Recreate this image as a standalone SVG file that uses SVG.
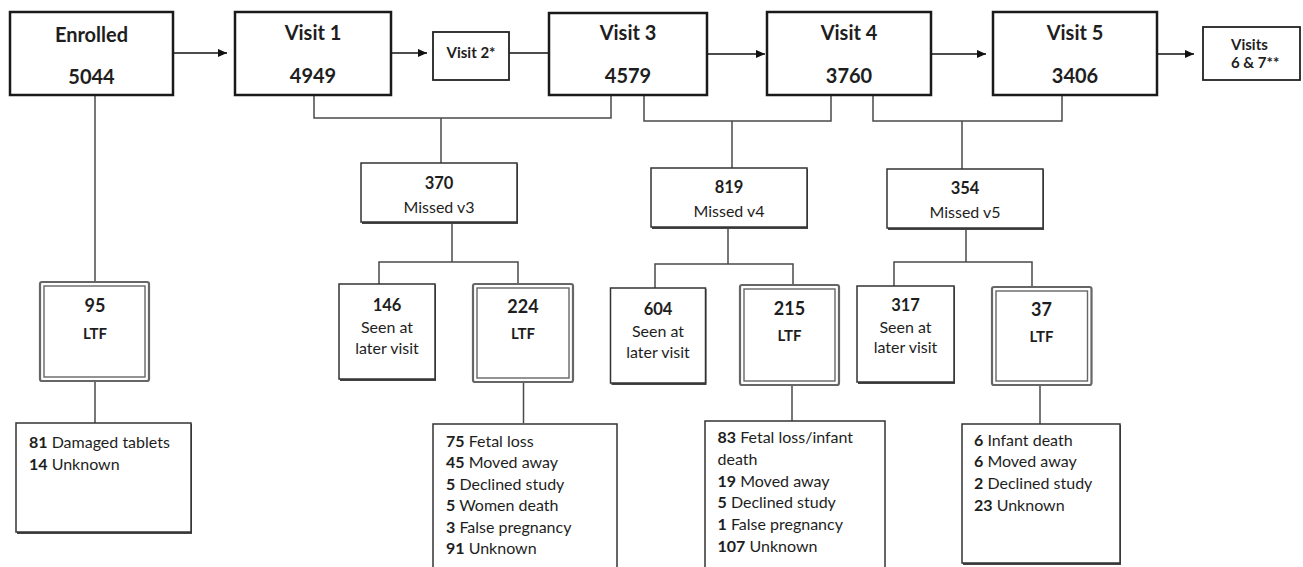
<svg xmlns="http://www.w3.org/2000/svg" width="1303" height="567" viewBox="0 0 1303 567">
<defs>
<marker id="arr" viewBox="0 0 10 10" refX="10" refY="5" markerWidth="9" markerHeight="9" markerUnits="userSpaceOnUse" orient="auto">
<path d="M0,0.5 L10,5 L0,9.5 z" fill="#111"/>
</marker>
</defs>
<style>
text{font-family:Lato,"Liberation Sans",sans-serif;fill:#1e1e1e}
.main{fill:#fff;stroke:#1a1a1a;stroke-width:2.5}
.small{fill:#fff;stroke:#222;stroke-width:1.8}
.box{fill:#fff;stroke:#333;stroke-width:1.5}
.shadow{fill:#444;stroke:none}
.dbl-o{fill:#fff;stroke:#666;stroke-width:2.2}
.dbl-i{fill:none;stroke:#666;stroke-width:1.4}
.t20{font-size:20px;font-weight:700;text-anchor:middle}
.t15{font-size:15px;font-weight:700}
.c{text-anchor:middle}
.n16{font-size:16.5px;font-weight:700;text-anchor:middle}
.n18{font-size:18px;font-weight:700;text-anchor:middle}
.ltf{font-size:15px;font-weight:700;text-anchor:middle}
.r16{font-size:16px;text-anchor:middle}
.list{font-size:16px}
.list tspan.b{font-weight:700}
.conn{fill:none;stroke:#4a4a4a;stroke-width:1.5}
.arrow{fill:none;stroke:#111;stroke-width:1.5}
</style>

<g id="connectors">
<path class="arrow" d="M173 53 H227" marker-end="url(#arr)"/>
<path class="arrow" d="M391 53 H427" marker-end="url(#arr)"/>
<path class="arrow" d="M509 53 H549"/>
<path class="arrow" d="M707 54 H765" marker-end="url(#arr)"/>
<path class="arrow" d="M931 54 H986" marker-end="url(#arr)"/>
<path class="arrow" d="M1157 54 H1194" marker-end="url(#arr)"/>
<path class="conn" d="M95 95 V282"/>
<path class="conn" d="M95 381 V423"/>
<path class="conn" d="M314 95 V118 H611 V95"/>
<path class="conn" d="M441 118 V163"/>
<path class="conn" d="M452 222 V262"/>
<path class="conn" d="M379 284 V262 H518 V284"/>
<path class="conn" d="M644 95 V121 H831 V95"/>
<path class="conn" d="M732 121 V168"/>
<path class="conn" d="M728 227 V264"/>
<path class="conn" d="M655 288 V264 H793 V285"/>
<path class="conn" d="M873 95 V121 H1062 V95"/>
<path class="conn" d="M962 121 V169"/>
<path class="conn" d="M966 228 V262"/>
<path class="conn" d="M894 286 V262 H1032 V287"/>
<path class="conn" d="M523.5 382 V423"/>
<path class="conn" d="M792 385 V421"/>
<path class="conn" d="M1040 385 V424"/>
</g>

<g id="enrolled">
<rect class="main" x="10" y="12" width="163" height="83"/>
<text class="t20" x="91.5" y="42">Enrolled</text>
<text class="t20" x="91.5" y="84">5044</text>
</g>
<g id="visit1">
<rect class="main" x="235" y="12" width="156" height="83"/>
<text class="t20" x="313" y="40">Visit 1</text>
<text class="t20" x="313" y="83">4949</text>
</g>
<g id="visit2">
<rect class="small" x="433" y="32" width="76" height="48"/>
<text class="t15 c" x="471" y="58">Visit 2*</text>
</g>
<g id="visit3">
<rect class="main" x="549" y="13" width="158" height="82"/>
<text class="t20" x="628" y="40">Visit 3</text>
<text class="t20" x="628" y="83">4579</text>
</g>
<g id="visit4">
<rect class="main" x="767" y="12" width="164" height="83"/>
<text class="t20" x="849" y="40">Visit 4</text>
<text class="t20" x="849" y="83">3760</text>
</g>
<g id="visit5">
<rect class="main" x="993" y="12" width="164" height="83"/>
<text class="t20" x="1075" y="40">Visit 5</text>
<text class="t20" x="1075" y="83">3406</text>
</g>
<g id="visit67">
<rect class="small" x="1203" y="27" width="97" height="53"/>
<text class="t15" x="1231" y="50">Visits</text>
<text class="t15" x="1231" y="68">6 &amp; 7**</text>
</g>

<g id="missed3">
<rect class="shadow" x="362" y="164" width="156" height="60"/>
<rect class="box" x="361" y="163" width="156" height="59"/>
<text class="n16" x="439" y="189">370</text>
<text class="r16" x="439" y="213">Missed v3</text>
</g>
<g id="missed4">
<rect class="shadow" x="652" y="169" width="156" height="60"/>
<rect class="box" x="651" y="168" width="156" height="59"/>
<text class="n16" x="729" y="193">819</text>
<text class="r16" x="729" y="217">Missed v4</text>
</g>
<g id="missed5">
<rect class="shadow" x="888" y="170" width="156" height="60"/>
<rect class="box" x="887" y="169" width="156" height="59"/>
<text class="n16" x="965" y="194">354</text>
<text class="r16" x="965" y="218">Missed v5</text>
</g>

<g id="ltf95">
<rect class="dbl-o" x="40" y="282" width="109" height="99" rx="2"/>
<rect class="dbl-i" x="44" y="286" width="101" height="91"/>
<text class="n18" x="95" y="312">95</text>
<text class="ltf" x="95" y="339">LTF</text>
</g>
<g id="seen146">
<rect class="shadow" x="340" y="285" width="96" height="96"/>
<rect class="box" x="339" y="284" width="96" height="95"/>
<text class="n16" x="387" y="311">146</text>
<text class="r16" x="387" y="333">Seen at</text>
<text class="r16" x="387" y="354">later visit</text>
</g>
<g id="ltf224">
<rect class="dbl-o" x="473" y="284" width="100" height="98" rx="2"/>
<rect class="dbl-i" x="477" y="288" width="92" height="90"/>
<text class="n18" x="523" y="313">224</text>
<text class="ltf" x="523" y="339">LTF</text>
</g>
<g id="seen604">
<rect class="shadow" x="611.5" y="289" width="95" height="96"/>
<rect class="box" x="610.5" y="288" width="95" height="95"/>
<text class="n16" x="658" y="315">604</text>
<text class="r16" x="658" y="337">Seen at</text>
<text class="r16" x="658" y="358">later visit</text>
</g>
<g id="ltf215">
<rect class="dbl-o" x="740" y="285" width="99" height="100" rx="2"/>
<rect class="dbl-i" x="744" y="289" width="91" height="92"/>
<text class="n18" x="789.5" y="315">215</text>
<text class="ltf" x="789.5" y="341">LTF</text>
</g>
<g id="seen317">
<rect class="shadow" x="858" y="287" width="97" height="97"/>
<rect class="box" x="857" y="286" width="97" height="96"/>
<text class="n16" x="905.5" y="311">317</text>
<text class="r16" x="905.5" y="333">Seen at</text>
<text class="r16" x="905.5" y="353">later visit</text>
</g>
<g id="ltf37">
<rect class="dbl-o" x="992" y="287" width="99.5" height="98" rx="2"/>
<rect class="dbl-i" x="996" y="291" width="91.5" height="90"/>
<text class="n18" x="1041.5" y="316">37</text>
<text class="ltf" x="1041.5" y="342">LTF</text>
</g>

<g id="reasons95">
<rect class="shadow" x="17" y="424" width="175" height="110"/>
<rect class="box" x="16" y="423" width="175" height="109"/>
<text class="list" x="29" y="447.5"><tspan class="b">81</tspan> Damaged tablets</text>
<text class="list" x="29" y="469.5"><tspan class="b">14</tspan> Unknown</text>
</g>
<g id="reasons224">
<rect class="box" x="433" y="424" width="184" height="160"/>
<text class="list" x="446" y="446.5"><tspan class="b">75</tspan> Fetal loss</text>
<text class="list" x="446" y="468"><tspan class="b">45</tspan> Moved away</text>
<text class="list" x="446" y="489.5"><tspan class="b">5</tspan> Declined study</text>
<text class="list" x="446" y="511"><tspan class="b">5</tspan> Women death</text>
<text class="list" x="446" y="532.5"><tspan class="b">3</tspan> False pregnancy</text>
<text class="list" x="446" y="554"><tspan class="b">91</tspan> Unknown</text>
</g>
<g id="reasons215">
<rect class="box" x="705" y="421" width="180" height="162"/>
<text class="list" x="717.5" y="442.5"><tspan class="b">83</tspan> Fetal loss/infant</text>
<text class="list" x="717.5" y="464.5">death</text>
<text class="list" x="717.5" y="486.5"><tspan class="b">19</tspan> Moved away</text>
<text class="list" x="717.5" y="507.5"><tspan class="b">5</tspan> Declined study</text>
<text class="list" x="717.5" y="529.5"><tspan class="b">1</tspan> False pregnancy</text>
<text class="list" x="717.5" y="551.5"><tspan class="b">107</tspan> Unknown</text>
</g>
<g id="reasons37">
<rect class="shadow" x="963" y="425" width="158" height="140"/>
<rect class="box" x="962" y="424" width="158" height="139"/>
<text class="list" x="974" y="445.5"><tspan class="b">6</tspan> Infant death</text>
<text class="list" x="974" y="466.5"><tspan class="b">6</tspan> Moved away</text>
<text class="list" x="974" y="488.5"><tspan class="b">2</tspan> Declined study</text>
<text class="list" x="974" y="510.5"><tspan class="b">23</tspan> Unknown</text>
</g>
</svg>
